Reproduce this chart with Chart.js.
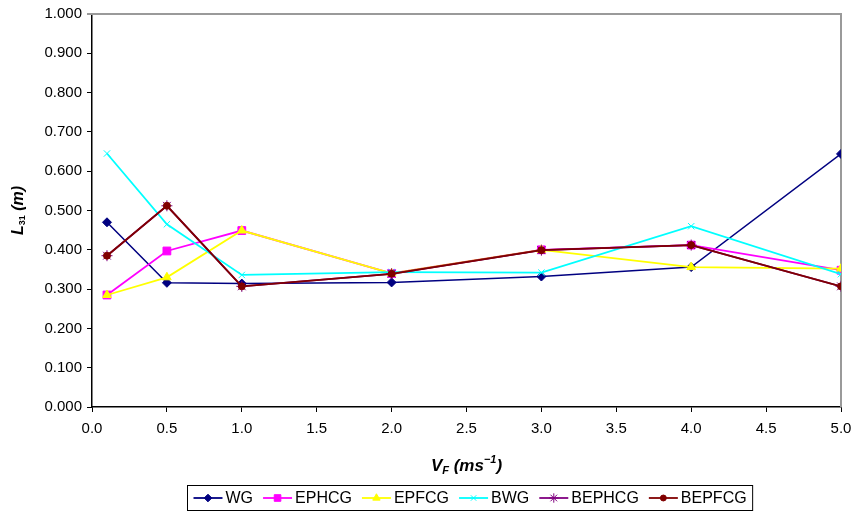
<!DOCTYPE html>
<html>
<head>
<meta charset="utf-8">
<script src="https://cdn.jsdelivr.net/npm/chart.js@4.4.1/dist/chart.umd.min.js"></script>
<style>
  html, body { margin: 0; padding: 0; background: #fff; }
  #wrap { width: 854px; height: 518px; position: relative; }
</style>
</head>
<body>
<div id="wrap"><canvas id="grafico"></canvas></div>
<script>
// velocidades del flujo (V_F) y longitudes L31 por configuracion
var velocidades = [0.1, 0.5, 1.0, 2.0, 3.0, 4.0, 5.0];
var ticksX = [0.0, 0.5, 1.0, 1.5, 2.0, 2.5, 3.0, 3.5, 4.0, 4.5, 5.0];
var ticksY = [0.0, 0.1, 0.2, 0.3, 0.4, 0.5, 0.6, 0.7, 0.8, 0.9, 1.0];

var nombres = ['WG', 'EPHCG', 'EPFCG', 'BWG', 'BEPHCG', 'BEPFCG'];
var WG     = [0.470, 0.316, 0.314, 0.317, 0.332, 0.356, 0.644];
var EPHCG  = [0.285, 0.397, 0.449, 0.340, 0.400, 0.412, 0.348];
var EPFCG  = [0.285, 0.330, 0.449, 0.340, 0.400, 0.356, 0.352];
var BWG    = [0.645, 0.465, 0.336, 0.343, 0.342, 0.460, 0.338];
var BEPHCG = [0.385, 0.512, 0.307, 0.339, 0.399, 0.412, 0.307];
var BEPFCG = [0.385, 0.512, 0.307, 0.339, 0.399, 0.412, 0.307];

var valores = [WG, EPHCG, EPFCG, BWG, BEPHCG, BEPFCG];
var colores = ['#000080', '#FF00FF', '#FFFF00', '#00FFFF', '#800080', '#800000'];
var marcas  = ['rectRot', 'rect', 'triangle', 'crossRot', 'star', 'circle'];
var radios  = [4.5, 5.5, 5, 4.5, 5.5, 3.5];
var grosor  = [1.5, 1.8, 1.8, 1.8, 1.8, 1.8];

var fuente = '"Liberation Sans", Arial, sans-serif';

function puntos(serie) {
    var res = [];
    for (var i = 0; i < velocidades.length; i++) {
        res.push({ x: velocidades[i], y: serie[i] });
    }
    return res;
}

var datasets = [];
for (var i = 0; i < nombres.length; i++) {
    datasets.push({
        label: nombres[i],
        data: puntos(valores[i]),
        showLine: true,
        borderColor: colores[i],
        backgroundColor: colores[i],
        borderWidth: grosor[i],
        pointStyle: marcas[i],
        pointRadius: radios[i],
        pointBorderWidth: 1,
        pointBorderColor: colores[i],
        pointBackgroundColor: colores[i],
        order: nombres.length - i,
        tension: 0
    });
}

// escribe un texto formado por trozos con fuente y desplazamiento propios
function textoCompuesto(ctx, trozos, cx, cy) {
    var total = 0;
    for (var i = 0; i < trozos.length; i++) {
        ctx.font = trozos[i].font;
        total += ctx.measureText(trozos[i].t).width;
    }
    var x = cx - total / 2;
    ctx.textAlign = 'left';
    ctx.textBaseline = 'middle';
    for (var i = 0; i < trozos.length; i++) {
        ctx.font = trozos[i].font;
        ctx.fillText(trozos[i].t, x, cy + (trozos[i].dy || 0));
        x += ctx.measureText(trozos[i].t).width;
    }
}

var extras = {
    id: 'extras',
    beforeDatasetsDraw: function (chart) {
        var ctx = chart.ctx;
        var a = chart.chartArea;
        ctx.save();
        ctx.strokeStyle = '#9a9a9a';
        ctx.lineWidth = 2;
        ctx.beginPath();
        ctx.moveTo(a.left - 5, a.top);
        ctx.lineTo(a.right, a.top);
        ctx.lineTo(a.right, a.bottom);
        ctx.stroke();
        ctx.restore();
    },
    afterDraw: function (chart) {
        var ctx = chart.ctx;
        var a = chart.chartArea;
        ctx.save();
        ctx.fillStyle = '#000';

        // titulo eje X
        var bi = 'italic bold 17px ' + fuente;
        var biS = 'italic bold 11px ' + fuente;
        textoCompuesto(ctx, [
            { t: 'V', font: bi },
            { t: 'F', font: biS, dy: 5 },
            { t: ' (ms', font: bi },
            { t: '\u22121', font: biS, dy: -6 },
            { t: ')', font: bi }
        ], (a.left + a.right) / 2, 466);

        // titulo eje Y
        ctx.save();
        ctx.translate(19, (a.top + a.bottom) / 2);
        ctx.rotate(-Math.PI / 2);
        textoCompuesto(ctx, [
            { t: 'L', font: 'italic bold 16px ' + fuente },
            { t: '31', font: 'bold 9px ' + fuente, dy: 4 },
            { t: ' (m)', font: 'italic bold 16px ' + fuente }
        ], 0, 0);
        ctx.restore();

        // leyenda con recuadro
        ctx.font = '16px ' + fuente;
        var linea = 29, sep = 3, hueco = 10, pad = 6;
        var ancho = pad;
        for (var i = 0; i < nombres.length; i++) {
            ancho += linea + sep + ctx.measureText(nombres[i]).width + (i < nombres.length - 1 ? hueco : 0);
        }
        ancho += pad;
        var x0 = Math.round((a.left + a.right) / 2 - ancho / 2) + 3.5;
        var y0 = 485.5, alto = 25;
        ctx.strokeStyle = '#000';
        ctx.lineWidth = 1;
        ctx.strokeRect(x0, y0, ancho, alto);
        var cy = y0 + alto / 2;
        var x = x0 + pad;
        for (var i = 0; i < nombres.length; i++) {
            ctx.strokeStyle = colores[i];
            ctx.fillStyle = colores[i];
            ctx.lineWidth = 1.8;
            ctx.beginPath();
            ctx.moveTo(x, cy);
            ctx.lineTo(x + linea, cy);
            ctx.stroke();
            ctx.lineWidth = 1;
            Chart.helpers.drawPoint(ctx, { pointStyle: marcas[i], radius: radios[i] * 0.85, borderWidth: 1, rotation: 0 }, x + linea / 2, cy);
            x += linea + sep;
            ctx.fillStyle = '#000';
            ctx.font = '16px ' + fuente;
            ctx.textAlign = 'left';
            ctx.textBaseline = 'middle';
            ctx.fillText(nombres[i], x, cy + 1);
            x += ctx.measureText(nombres[i]).width + hueco;
        }
        ctx.restore();
    }
};

var ctx = document.getElementById('grafico').getContext('2d');
var myChart = new Chart(ctx, {
    type: 'scatter',
    data: { datasets: datasets },
    options: {
        responsive: true,
        maintainAspectRatio: false,
        animation: false,
        layout: { padding: { left: 0, right: 0, top: 10, bottom: 0 } },
        plugins: {
            legend: { display: false },
            tooltip: { enabled: false }
        },
        scales: {
            x: {
                type: 'linear',
                min: 0,
                max: 5,
                afterBuildTicks: function (scale) {
                    scale.ticks = ticksX.map(function (v) { return { value: v }; });
                },
                afterFit: function (scale) {
                    scale.height = 111;
                    scale.paddingLeft = 0;
                    scale.paddingRight = 13;
                },
                grid: { drawOnChartArea: false, drawTicks: true, tickLength: 5, color: '#000', lineWidth: 1 },
                border: { color: '#000', width: 1.5 },
                ticks: {
                    color: '#000',
                    padding: 8,
                    maxRotation: 0,
                    font: { family: fuente, size: 15 },
                    callback: function (v) { return Number(v).toFixed(1); }
                }
            },
            y: {
                type: 'linear',
                min: 0,
                max: 1,
                afterBuildTicks: function (scale) {
                    scale.ticks = ticksY.map(function (v) { return { value: v }; });
                },
                afterFit: function (scale) { scale.width = 92; },
                grid: { drawOnChartArea: false, drawTicks: true, tickLength: 5, color: '#000', lineWidth: 1 },
                border: { color: '#000', width: 1.5 },
                ticks: {
                    color: '#000',
                    padding: 5,
                    font: { family: fuente, size: 15 },
                    callback: function (v) { return Number(v).toFixed(3); }
                }
            }
        }
    },
    plugins: [extras]
});
</script>
</body>
</html>
